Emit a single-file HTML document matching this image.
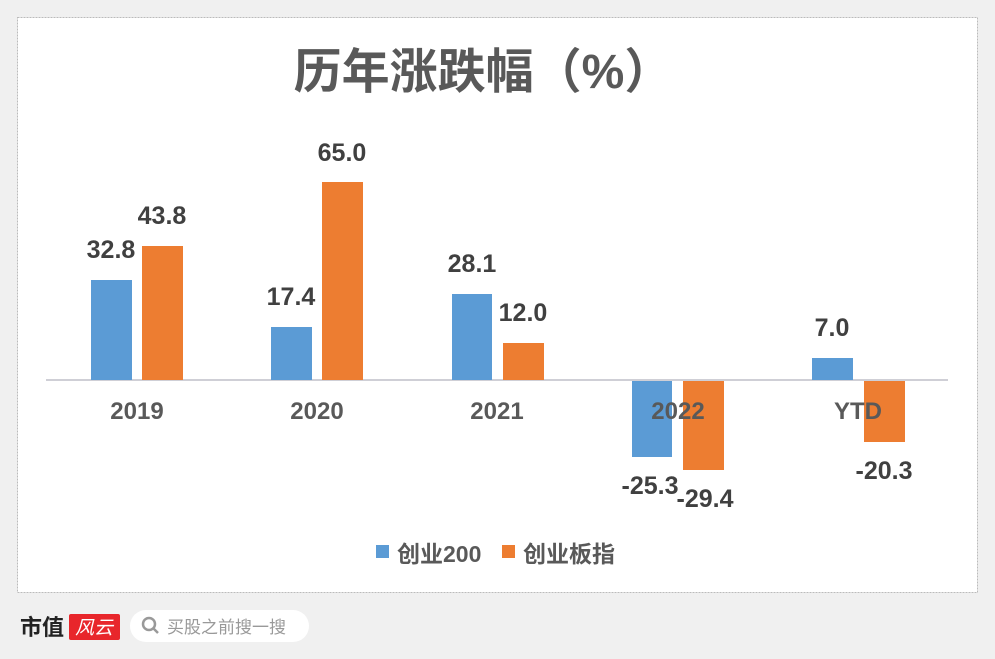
<!DOCTYPE html>
<html><head><meta charset="utf-8"><style>
html,body{margin:0;padding:0;background:#f0f0f0;}
body{width:995px;height:659px;position:relative;overflow:hidden;font-family:"Liberation Sans","Noto Sans CJK SC",sans-serif;}
</style></head><body>
<svg width="995" height="659" style="position:absolute;left:0;top:0" font-family="'Liberation Sans','Noto Sans CJK SC',sans-serif">
<rect x="17.5" y="17.5" width="960" height="575" fill="#fff" stroke="#bbb" stroke-dasharray="2,1"/>
<text x="483" y="88" text-anchor="middle" font-size="48" font-weight="bold" fill="#595959">历年涨跌幅（%）</text>
<line x1="46" y1="380" x2="948" y2="380" stroke="#bfbfc8" stroke-width="1.5"/>
<g fill="#5b9bd5">
<rect x="91" y="280" width="41" height="100"/>
<rect x="271" y="327" width="41" height="53"/>
<rect x="452" y="294" width="40" height="86"/>
<rect x="632" y="381" width="40" height="76"/>
<rect x="812" y="358" width="41" height="22"/>
</g>
<g fill="#ed7d31">
<rect x="142" y="246" width="41" height="134"/>
<rect x="322" y="182" width="41" height="198"/>
<rect x="503" y="343" width="41" height="37"/>
<rect x="683" y="381" width="41" height="89"/>
<rect x="864" y="381" width="41" height="61"/>
</g>
<g font-size="25" font-weight="bold" fill="#404040" text-anchor="middle">
<text x="111" y="258">32.8</text><text x="162" y="224">43.8</text>
<text x="291" y="305">17.4</text><text x="342" y="161">65.0</text>
<text x="472" y="272">28.1</text><text x="523" y="321">12.0</text>
<text x="650" y="494">-25.3</text><text x="705" y="507">-29.4</text>
<text x="832" y="336">7.0</text><text x="884" y="479">-20.3</text>
</g>
<g font-size="24" font-weight="bold" fill="#595959" text-anchor="middle">
<text x="137" y="419">2019</text><text x="317" y="419">2020</text><text x="497" y="419">2021</text><text x="678" y="419">2022</text><text x="858" y="419">YTD</text>
</g>
<rect x="376" y="545" width="13" height="13" fill="#5b9bd5"/>
<text x="397" y="562" font-size="23" font-weight="bold" fill="#595959">创业200</text>
<rect x="502" y="545" width="13" height="13" fill="#ed7d31"/>
<text x="523" y="562" font-size="23" font-weight="bold" fill="#595959">创业板指</text>
<text x="20" y="635" font-size="22" font-weight="bold" fill="#222">市值</text>
<rect x="69" y="614" width="51" height="26" rx="2" fill="#e8262b"/>
<text x="94" y="634" text-anchor="middle" font-size="19" fill="#fff" font-style="italic">风云</text>
<rect x="130" y="610" width="179" height="32" rx="16" fill="#fff"/>
<circle cx="149" cy="624" r="6" fill="none" stroke="#999" stroke-width="2.5"/>
<line x1="153" y1="628" x2="158" y2="633" stroke="#999" stroke-width="2.5"/>
<text x="167" y="633" font-size="17" fill="#999">买股之前搜一搜</text>
</svg>
</body></html>
